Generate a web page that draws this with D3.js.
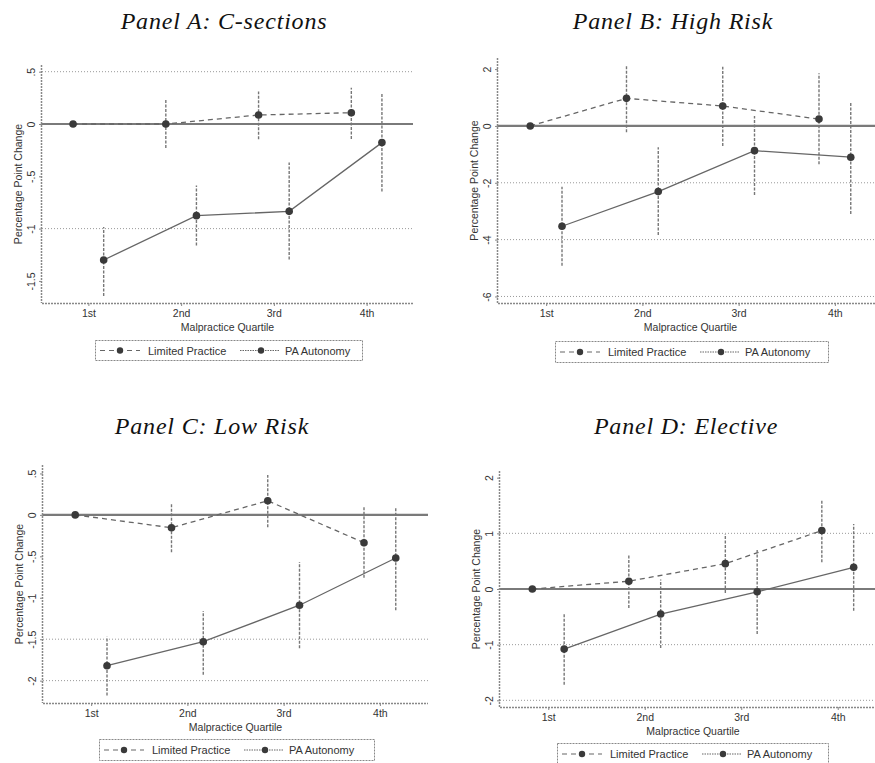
<!DOCTYPE html>
<html><head><meta charset="utf-8">
<script src="https://cdn.jsdelivr.net/npm/d3@7"></script>
<style>
body{margin:0;background:#fff;}
svg{display:block;}
</style></head>
<body>
<svg id="chart" width="875" height="763"></svg>
<script>
// ---------- DATA ----------
const quartiles = ["1st", "2nd", "3rd", "4th"];
const seriesNames = ["Limited Practice", "PA Autonomy"];

// Panel A: C-sections
const aLimited   = [0, 0.00, 0.086, 0.108];
const aLimitedLo = [null, -0.23, -0.146, -0.143];
const aLimitedHi = [null, 0.235, 0.31, 0.346];
const aAuto      = [-1.30, -0.876, -0.835, -0.178];
const aAutoLo    = [-1.645, -1.162, -1.295, -0.645];
const aAutoHi    = [-0.984, -0.587, -0.369, 0.292];
const aTicks     = [0.5, 0, -0.5, -1, -1.5];
const aTickLabels= [".5", "0", "-.5", "-1", "-1.5"];
const aGrid      = [0.5, -1];

// Panel B: High Risk
const bLimited   = [0, 0.97, 0.70, 0.24];
const bLimitedLo = [null, -0.22, -0.71, -1.35];
const bLimitedHi = [null, 2.14, 2.08, 1.85];
const bAuto      = [-3.53, -2.31, -0.87, -1.10];
const bAutoLo    = [-4.92, -3.84, -2.43, -3.10];
const bAutoHi    = [-2.14, -0.75, 0.35, 0.85];
const bTicks     = [2, 0, -2, -4, -6];
const bTickLabels= ["2", "0", "-2", "-4", "-6"];
const bGrid      = [-2, -4, -6];

// Panel C: Low Risk
const cLimited   = [0, -0.155, 0.17, -0.336];
const cLimitedLo = [null, -0.45, -0.15, -0.76];
const cLimitedHi = [null, 0.13, 0.48, 0.098];
const cAuto      = [-1.82, -1.53, -1.09, -0.52];
const cAutoLo    = [-2.18, -1.93, -1.61, -1.15];
const cAutoHi    = [-1.47, -1.16, -0.57, 0.09];
const cTicks     = [0.5, 0, -0.5, -1, -1.5, -2];
const cTickLabels= [".5", "0", "-.5", "-1", "-1.5", "-2"];
const cGrid      = [-1.5, -2];

// Panel D: Elective
const dLimited   = [0, 0.14, 0.455, 1.05];
const dLimitedLo = [null, -0.34, -0.07, 0.48];
const dLimitedHi = [null, 0.60, 0.99, 1.61];
const dAuto      = [-1.08, -0.45, -0.05, 0.39];
const dAutoLo    = [-1.72, -1.06, -0.81, -0.39];
const dAutoHi    = [-0.44, 0.17, 0.71, 1.17];
const dTicks     = [2, 1, 0, -1, -2];
const dTickLabels= ["2", "1", "0", "-1", "-2"];
const dGrid      = [1, -1, -2];

const titles = ["Panel A: C-sections", "Panel B: High Risk", "Panel C: Low Risk", "Panel D: Elective"];
const xTitle = "Malpractice Quartile";
const yTitle = "Percentage Point Change";

// ---------- LAYOUT ----------
const panels = [
  {title: titles[0], lim: aLimited, limLo: aLimitedLo, limHi: aLimitedHi, auto: aAuto, autoLo: aAutoLo, autoHi: aAutoHi,
   ticks: aTicks, tickLabels: aTickLabels, grid: aGrid,
   x0: 42, x1: 413, y0: 65, y1: 303, yDom: [-1.711, 0.564], titleX: 224, titleY: 29,
   legX: 95, legY: 340, legW: 267, legH: 20},
  {title: titles[1], lim: bLimited, limLo: bLimitedLo, limHi: bLimitedHi, auto: bAuto, autoLo: bAutoLo, autoHi: bAutoHi,
   ticks: bTicks, tickLabels: bTickLabels, grid: bGrid,
   x0: 498, x1: 883, y0: 58, y1: 303, yDom: [-6.23, 2.39], titleX: 673, titleY: 29,
   legX: 555, legY: 341, legW: 273, legH: 21},
  {title: titles[2], lim: cLimited, limLo: cLimitedLo, limHi: cLimitedHi, auto: cAuto, autoLo: cAutoLo, autoHi: cAutoHi,
   ticks: cTicks, tickLabels: cTickLabels, grid: cGrid,
   x0: 43, x1: 428, y0: 465, y1: 703, yDom: [-2.27, 0.602], titleX: 212, titleY: 434,
   legX: 99, legY: 739, legW: 275, legH: 21},
  {title: titles[3], lim: dLimited, limLo: dLimitedLo, limHi: dLimitedHi, auto: dAuto, autoLo: dAutoLo, autoHi: dAutoHi,
   ticks: dTicks, tickLabels: dTickLabels, grid: dGrid,
   x0: 500, x1: 886, y0: 471, y1: 707, yDom: [-2.12, 2.12], titleX: 686, titleY: 434,
   legX: 557, legY: 743, legW: 271, legH: 21}
];

const svg = d3.select("#chart");
const lineCol = "#666", markCol = "#3a3a3a", ciCol = "#777", axisCol = "#888";
const offs = 0.165;

function drawPanel(p) {
  const g = svg.append("g");
  const x = d3.scaleLinear().domain([0.5, 4.5]).range([p.x0, p.x1]);
  const y = d3.scaleLinear().domain(p.yDom).range([p.y1, p.y0]);

  // title
  g.append("text").attr("x", p.titleX).attr("y", p.titleY).attr("text-anchor", "middle")
    .attr("font-family", "'Liberation Serif', 'Times New Roman', serif").attr("font-style", "italic")
    .attr("font-size", 24).attr("letter-spacing", 0.8).attr("fill", "#111").text(p.title);

  // gridlines
  g.selectAll(".grid").data(p.grid).enter().append("line")
    .attr("x1", p.x0).attr("x2", p.x1).attr("y1", d => y(d)).attr("y2", d => y(d))
    .attr("stroke", "#999").attr("stroke-width", 1).attr("stroke-dasharray", "1,2");
  // zero line
  g.append("line").attr("x1", p.x0).attr("x2", p.x1).attr("y1", y(0)).attr("y2", y(0))
    .attr("stroke", "#7a7a7a").attr("stroke-width", 2.2);

  // y axis
  const yAxis = d3.axisLeft(y).tickValues(p.ticks).tickSize(3)
    .tickFormat((d, i) => p.tickLabels[i]);
  const ya = g.append("g").attr("transform", `translate(${p.x0},0)`).call(yAxis);
  ya.select(".domain").attr("d", `M-0.5,${p.y0}V${p.y1}`).attr("stroke", axisCol).attr("stroke-width", 1.5).attr("stroke-dasharray", "2,1");
  ya.selectAll(".tick line").attr("stroke", axisCol);
  ya.selectAll(".tick text").attr("transform", "rotate(-90)").attr("x", 0).attr("y", -7)
    .attr("dy", 0).attr("text-anchor", "middle")
    .attr("font-family", "'Liberation Sans', Arial, sans-serif").attr("font-size", 10.5).attr("fill", "#333");

  // x axis
  const xAxis = d3.axisBottom(x).tickValues([1, 2, 3, 4]).tickSize(3)
    .tickFormat((d, i) => quartiles[i]);
  const xa = g.append("g").attr("transform", `translate(0,${p.y1})`).call(xAxis);
  xa.select(".domain").attr("d", `M${p.x0},0.5H${p.x1}`).attr("stroke", axisCol).attr("stroke-width", 1.5).attr("stroke-dasharray", "2,1");
  xa.selectAll(".tick line").attr("stroke", axisCol);
  xa.selectAll(".tick text").attr("y", 7).attr("dy", "0.71em")
    .attr("font-family", "'Liberation Sans', Arial, sans-serif").attr("font-size", 10.5).attr("fill", "#333");

  // axis titles
  g.append("text").attr("x", (x(1) + x(4)) / 2).attr("y", p.y1 + 28).attr("text-anchor", "middle")
    .attr("font-family", "'Liberation Sans', Arial, sans-serif").attr("font-size", 10.5).attr("fill", "#333").text(xTitle);
  g.append("text").attr("transform", `translate(${p.x0 - 20},${(p.y0 + p.y1) / 2}) rotate(-90)`)
    .attr("text-anchor", "middle")
    .attr("font-family", "'Liberation Sans', Arial, sans-serif").attr("font-size", 10.5).attr("fill", "#333").text(yTitle);

  // series
  const series = [
    {vals: p.lim, lo: p.limLo, hi: p.limHi, off: -offs, dash: "5,4"},
    {vals: p.auto, lo: p.autoLo, hi: p.autoHi, off: offs, dash: null}
  ];
  series.forEach(s => {
    const pts = s.vals.map((v, i) => ({x: i + 1 + s.off, v, lo: s.lo[i], hi: s.hi[i]}));
    // CIs
    g.selectAll(null).data(pts.filter(d => d.lo !== null)).enter().append("line")
      .attr("x1", d => x(d.x)).attr("x2", d => x(d.x))
      .attr("y1", d => y(d.lo)).attr("y2", d => y(d.hi))
      .attr("stroke", ciCol).attr("stroke-width", 1.4).attr("stroke-dasharray", "3,1.5");
    // line
    const ln = d3.line().x(d => x(d.x)).y(d => y(d.v));
    const path = g.append("path").datum(pts).attr("d", ln).attr("fill", "none")
      .attr("stroke", lineCol).attr("stroke-width", 1.3);
    if (s.dash) path.attr("stroke-dasharray", s.dash);
    // markers
    g.selectAll(null).data(pts).enter().append("circle")
      .attr("cx", d => x(d.x)).attr("cy", d => y(d.v)).attr("r", 3.8).attr("fill", markCol);
  });

  // legend
  const lg = g.append("g").attr("transform", `translate(${p.legX},${p.legY})`);
  lg.append("rect").attr("x", 0.5).attr("y", 0.5).attr("width", p.legW).attr("height", p.legH)
    .attr("fill", "none").attr("stroke", "#888").attr("stroke-dasharray", "2,1");
  const cy = p.legH / 2 + 0.5;
  lg.append("line").attr("x1", 5).attr("x2", 45).attr("y1", cy).attr("y2", cy)
    .attr("stroke", lineCol).attr("stroke-width", 1.2).attr("stroke-dasharray", "5,4");
  lg.append("circle").attr("cx", 25).attr("cy", cy).attr("r", 3.2).attr("fill", markCol);
  lg.append("text").attr("x", 53).attr("y", cy + 4).attr("font-family", "'Liberation Sans', Arial, sans-serif")
    .attr("font-size", 11).attr("fill", "#333").text(seriesNames[0]);
  lg.append("line").attr("x1", 145).attr("x2", 185).attr("y1", cy).attr("y2", cy)
    .attr("stroke", lineCol).attr("stroke-width", 1.2).attr("stroke-dasharray", "1.5,1");
  lg.append("circle").attr("cx", 166).attr("cy", cy).attr("r", 3.2).attr("fill", markCol);
  lg.append("text").attr("x", 190).attr("y", cy + 4).attr("font-family", "'Liberation Sans', Arial, sans-serif")
    .attr("font-size", 11).attr("fill", "#333").text(seriesNames[1]);
}

panels.forEach(drawPanel);
</script>
</body></html>
